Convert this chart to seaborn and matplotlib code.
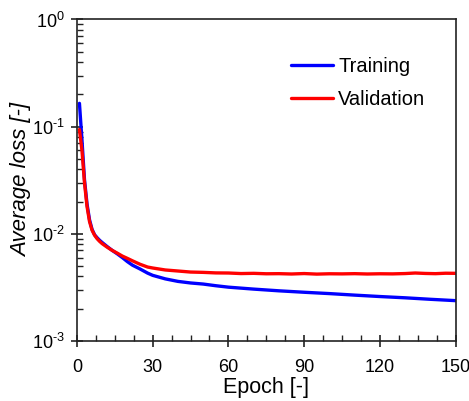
"""Training / validation loss curve on a log scale."""

import matplotlib

matplotlib.use("Agg")

import math

import matplotlib.pyplot as plt
import pandas as pd
import seaborn as sns
from matplotlib.ticker import FuncFormatter, LogLocator, MultipleLocator, NullFormatter

# values
train_epochs = [1, 2, 3, 4, 5, 6, 7, 8, 9, 10, 12, 14, 16, 18, 20, 22, 25, 28, 30,
                35, 40, 45, 50, 55, 60, 70, 80, 90, 100, 110, 120, 130, 140, 150]
train_loss = [0.165, 0.075, 0.032, 0.019, 0.0135, 0.011, 0.0098, 0.0092, 0.0087,
              0.0083, 0.0076, 0.0070, 0.0065, 0.0060, 0.0055, 0.0051, 0.0047,
              0.0043, 0.0041, 0.0038, 0.0036, 0.00348, 0.00340, 0.00328, 0.00318,
              0.00305, 0.00294, 0.00285, 0.00277, 0.00268, 0.00260, 0.00253,
              0.00245, 0.00238]

val_epochs = [1, 2, 3, 4, 5, 6, 7, 8, 9, 10, 12, 14, 16, 18, 20, 22, 25, 28, 30,
              35, 40, 45, 50, 55, 60, 65, 70, 75, 80, 85, 90, 95, 100, 105, 110,
              115, 120, 125, 130, 134, 138, 142, 146, 150]
val_loss = [0.094, 0.060, 0.030, 0.018, 0.013, 0.0108, 0.0097, 0.0090, 0.0085,
            0.0081, 0.0075, 0.0070, 0.0066, 0.0062, 0.0059, 0.0056, 0.0052,
            0.0049, 0.0048, 0.0046, 0.0045, 0.00440, 0.00437, 0.00432, 0.00431,
            0.00426, 0.00428, 0.00424, 0.00425, 0.00422, 0.00426, 0.00421,
            0.00424, 0.00423, 0.00425, 0.00422, 0.00424, 0.00423, 0.00426,
            0.00431, 0.00427, 0.00425, 0.00429, 0.00428]

series_names = ["Training", "Validation"]
series_colors = ["#0000ff", "#ff0000"]

df = pd.concat([
    pd.DataFrame({"Epoch": train_epochs, "Loss": train_loss, "Set": series_names[0]}),
    pd.DataFrame({"Epoch": val_epochs, "Loss": val_loss, "Set": series_names[1]}),
])

sns.set_style("ticks")
plt.rcParams["font.family"] = ["Liberation Sans", "DejaVu Sans"]
plt.rcParams["mathtext.fontset"] = "custom"
plt.rcParams["mathtext.rm"] = "Liberation Sans"
plt.rcParams["mathtext.it"] = "Liberation Sans:italic"
plt.rcParams["text.color"] = "black"
plt.rcParams["axes.labelcolor"] = "black"


def decade_label(value, _pos):
    # short hyphen in the exponent, like the reference
    exponent = int(round(math.log10(value)))
    return rf"$\mathdefault{{10^{{\text{{{exponent}}}}}}}$"


fig = plt.figure(figsize=(4.69, 4.01), dpi=100)
ax = fig.add_axes([0.164, 0.1496, 0.8076, 0.8018])

sns.lineplot(data=df, x="Epoch", y="Loss", hue="Set", palette=series_colors,
             linewidth=2.4, ax=ax, sort=True, estimator=None)

ax.set_yscale("log")
ax.set_xlim(0, 150)
ax.set_ylim(1e-3, 1)
ax.xaxis.set_major_locator(MultipleLocator(30))
ax.xaxis.set_minor_locator(MultipleLocator(7.5))
ax.yaxis.set_major_locator(LogLocator(base=10, numticks=10))
ax.yaxis.set_major_formatter(FuncFormatter(decade_label))
ax.yaxis.set_minor_locator(LogLocator(base=10, subs=range(2, 10), numticks=10))
ax.yaxis.set_minor_formatter(NullFormatter())

ax.tick_params(which="major", direction="inout", length=8, width=1.2,
               labelsize=13, colors="#222222", labelcolor="black")
ax.tick_params(axis="x", which="major", pad=9)
ax.tick_params(axis="y", which="major", pad=5)
ax.tick_params(which="minor", direction="in", length=4, width=1.0, colors="#222222")
for side in ["left", "right", "top", "bottom"]:
    ax.spines[side].set_visible(True)
    ax.spines[side].set_linewidth(1.2)
    ax.spines[side].set_color("#222222")

ax.set_xlabel("Epoch [-]", fontsize=15.5, labelpad=1)
ax.set_ylabel("Average loss [-]", fontsize=16, style="italic")
ax.yaxis.set_label_coords(-0.118, 0.5)

ax.legend(title=None, frameon=False, fontsize=14.5, loc="upper right",
          bbox_to_anchor=(0.968, 0.94), handlelength=2.1, handletextpad=0.25,
          labelspacing=0.72)

fig.savefig("out.png", dpi=100)
